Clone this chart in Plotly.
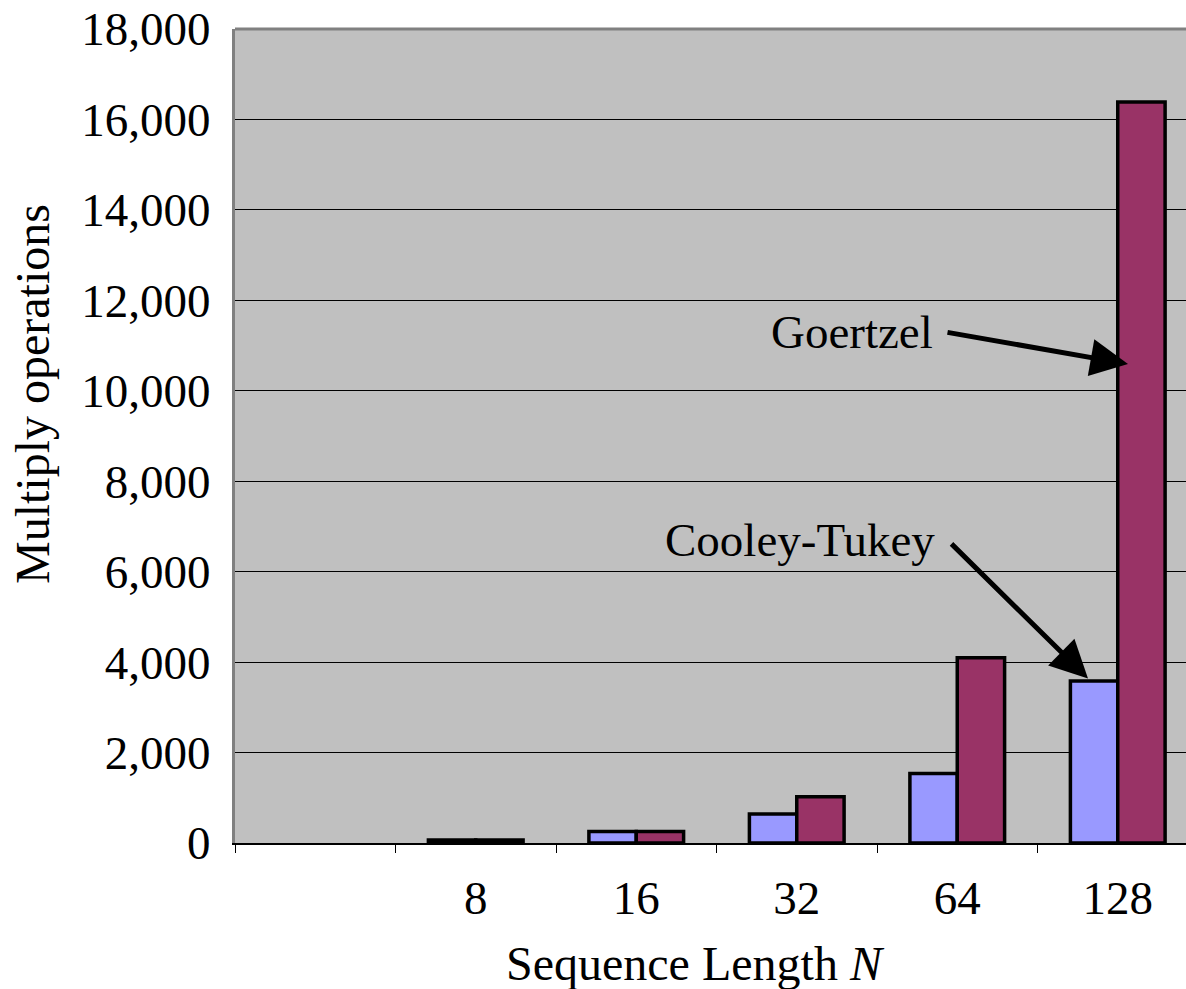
import plotly.graph_objects as go

categories = [" ", "8", "16", "32", "64", "128"]
cooley_tukey = [None, 64, 256, 640, 1536, 3584]
goertzel = [None, 64, 256, 1024, 4096, 16384]
y_ticks = [0, 2000, 4000, 6000, 8000, 10000, 12000, 14000, 16000, 18000]
y_tick_text = ["0", "2,000", "4,000", "6,000", "8,000", "10,000", "12,000", "14,000", "16,000", "18,000"]

FONT = "Liberation Serif, Times New Roman, serif"
W, H = 1186, 989
L, T, B = 235, 29, 146
plot_w = W - L
plot_h = H - B - T
cat_w = 160.5

fig = go.Figure()
fig.add_trace(go.Bar(x=categories, y=cooley_tukey, name="Cooley-Tukey",
                     marker=dict(color="#9999FF", line=dict(color="black", width=3.5))))
fig.add_trace(go.Bar(x=categories, y=goertzel, name="Goertzel",
                     marker=dict(color="#993366", line=dict(color="black", width=3.5))))

x_right = -0.5 + plot_w / cat_w

def px_to_paper(px, py):
    return (px - L) / plot_w, (H - B - py) / plot_h

annotations = []
gx, gy = px_to_paper(852, 332)
annotations.append(dict(x=gx, y=gy, xref="paper", yref="paper", text="Goertzel",
                        showarrow=False, font=dict(family=FONT, size=47, color="black")))
cx, cy = px_to_paper(800, 540)
annotations.append(dict(x=cx, y=cy, xref="paper", yref="paper", text="Cooley-Tukey",
                        showarrow=False, font=dict(family=FONT, size=47, color="black")))
# arrows (tip in data coordinates)
annotations.append(dict(x=5 + (1128 - 1117.75) / cat_w, y=10590, xref="x", yref="y",
                        ax=946 - 1128, ay=332 - 364, text="", showarrow=True,
                        arrowhead=2, arrowsize=1.5, arrowwidth=5, arrowcolor="black"))
annotations.append(dict(x=5 + (1088 - 1117.75) / cat_w, y=3640, xref="x", yref="y",
                        ax=950 - 1088, ay=542 - 678, text="", showarrow=True,
                        arrowhead=2, arrowsize=1.5, arrowwidth=5, arrowcolor="black"))
# axis titles
tx, ty = px_to_paper(33, 394)
annotations.append(dict(x=tx, y=ty, xref="paper", yref="paper",
                        text="Multiply operations", textangle=-90, showarrow=False,
                        xanchor="center", yanchor="middle",
                        font=dict(family=FONT, size=48, color="black")))
sx, sy = px_to_paper(695, 963)
annotations.append(dict(x=sx, y=sy, xref="paper", yref="paper",
                        text="Sequence Length <i>N</i>", showarrow=False,
                        xanchor="center", yanchor="middle",
                        font=dict(family=FONT, size=48, color="black")))

fig.update_layout(
    width=W, height=H,
    margin=dict(l=L, r=0, t=T, b=B, pad=0),
    paper_bgcolor="white",
    plot_bgcolor="#C0C0C0",
    barmode="group",
    bargap=0.41,
    bargroupgap=0,
    showlegend=False,
    font=dict(family=FONT, size=47, color="black"),
    annotations=annotations,
    shapes=[dict(type="line", xref="paper", yref="paper", x0=0, x1=1, y0=1, y1=1,
                 line=dict(color="#808080", width=3))],
)
fig.update_xaxes(
    type="category", range=[-0.5, x_right], tickson="boundaries",
    ticks="outside", ticklen=8, tickwidth=1, tickcolor="black",
    showline=True, linecolor="black", linewidth=2,
    showgrid=False, zeroline=False,
    ticklabelstandoff=13,
    tickfont=dict(family=FONT, size=47, color="black"),
)
fig.update_yaxes(
    range=[0, 18000], tickvals=y_ticks, ticktext=y_tick_text,
    showgrid=True, gridcolor="black", gridwidth=1,
    showline=True, linecolor="#808080", linewidth=3,
    zeroline=False, ticks="", ticklabelstandoff=12,
    tickfont=dict(family=FONT, size=47, color="black"),
)

fig.write_html("out.html")
